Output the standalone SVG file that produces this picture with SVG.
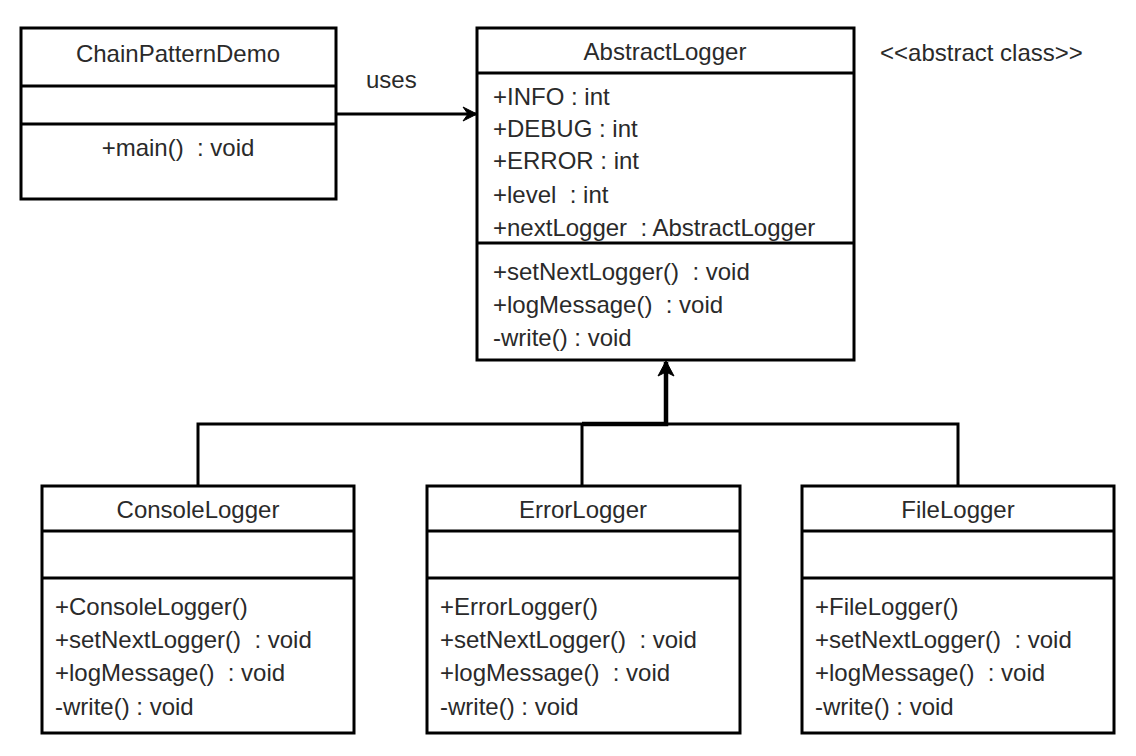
<svg xmlns="http://www.w3.org/2000/svg" width="1136" height="756" viewBox="0 0 1136 756" xml:space="preserve">
<defs>
<style>
.box{fill:#fff;stroke:#000;stroke-width:3}
.div{stroke:#000;stroke-width:3}
.t{font-family:"Liberation Sans",Arial,sans-serif;font-size:24px;fill:#2a2a2a;white-space:pre}
.c{text-anchor:middle}
.ln{fill:none;stroke:#000;stroke-width:3}
.thick{fill:none;stroke:#000;stroke-width:4.5}
</style>
<marker id="arr" markerWidth="16" markerHeight="16" refX="14" refY="8" orient="auto" markerUnits="userSpaceOnUse">
<path d="M1,1 L15,8 L1,15 L6,8 Z" fill="#000" stroke="#000" stroke-width="1"/>
</marker>
<marker id="tri" markerWidth="18" markerHeight="18" refX="15" refY="9" orient="auto" markerUnits="userSpaceOnUse">
<path d="M1,1 L16,9 L1,17 L5,9 Z" fill="#000" stroke="#000" stroke-width="1"/>
</marker>
</defs>
<rect width="1136" height="756" fill="#fff"/>

<g id="ChainPatternDemo">
<rect class="box" x="21" y="28" width="315" height="171"/>
<line class="div" x1="21" y1="86" x2="336" y2="86"/>
<line class="div" x1="21" y1="124" x2="336" y2="124"/>
<text class="t c" x="178" y="62">ChainPatternDemo</text>
<text class="t c" x="178" y="156">+main()  : void</text>
</g>

<g id="AbstractLogger">
<rect class="box" x="477" y="28" width="377" height="332"/>
<line class="div" x1="477" y1="73" x2="854" y2="73"/>
<line class="div" x1="477" y1="243" x2="854" y2="243"/>
<text class="t c" x="665" y="60">AbstractLogger</text>
<text class="t" x="493" y="105">+INFO : int</text>
<text class="t" x="493" y="137">+DEBUG : int</text>
<text class="t" x="493" y="169">+ERROR : int</text>
<text class="t" x="493" y="203">+level  : int</text>
<text class="t" x="493" y="236">+nextLogger  : AbstractLogger</text>
<text class="t" x="493" y="280">+setNextLogger()  : void</text>
<text class="t" x="493" y="313">+logMessage()  : void</text>
<text class="t" x="493" y="346">-write() : void</text>
</g>
<text id="stereotype" class="t" x="880" y="61">&lt;&lt;abstract class&gt;&gt;</text>

<g id="ConsoleLogger">
<rect class="box" x="42" y="486" width="312" height="247"/>
<line class="div" x1="42" y1="531" x2="354" y2="531"/>
<line class="div" x1="42" y1="578" x2="354" y2="578"/>
<text class="t c" x="198" y="518">ConsoleLogger</text>
<text class="t" x="55" y="615">+ConsoleLogger()</text>
<text class="t" x="55" y="648">+setNextLogger()  : void</text>
<text class="t" x="55" y="681">+logMessage()  : void</text>
<text class="t" x="55" y="715">-write() : void</text>
</g>

<g id="ErrorLogger">
<rect class="box" x="427" y="486" width="313" height="247"/>
<line class="div" x1="427" y1="531" x2="740" y2="531"/>
<line class="div" x1="427" y1="578" x2="740" y2="578"/>
<text class="t c" x="583" y="518">ErrorLogger</text>
<text class="t" x="440" y="615">+ErrorLogger()</text>
<text class="t" x="440" y="648">+setNextLogger()  : void</text>
<text class="t" x="440" y="681">+logMessage()  : void</text>
<text class="t" x="440" y="715">-write() : void</text>
</g>

<g id="FileLogger">
<rect class="box" x="802" y="486" width="312" height="247"/>
<line class="div" x1="802" y1="531" x2="1114" y2="531"/>
<line class="div" x1="802" y1="578" x2="1114" y2="578"/>
<text class="t c" x="958" y="518">FileLogger</text>
<text class="t" x="815" y="615">+FileLogger()</text>
<text class="t" x="815" y="648">+setNextLogger()  : void</text>
<text class="t" x="815" y="681">+logMessage()  : void</text>
<text class="t" x="815" y="715">-write() : void</text>
</g>

<g id="connectors">
<line class="ln" x1="336" y1="114" x2="476" y2="114" marker-end="url(#arr)"/>
<text class="t" x="366" y="88">uses</text>
<polyline class="ln" points="198,486 198,424 958,424 958,486"/>
<line class="ln" x1="582" y1="424" x2="582" y2="486"/>
<polyline class="thick" points="582,424 666,424 666,362" marker-end="url(#tri)"/>
</g>
</svg>
